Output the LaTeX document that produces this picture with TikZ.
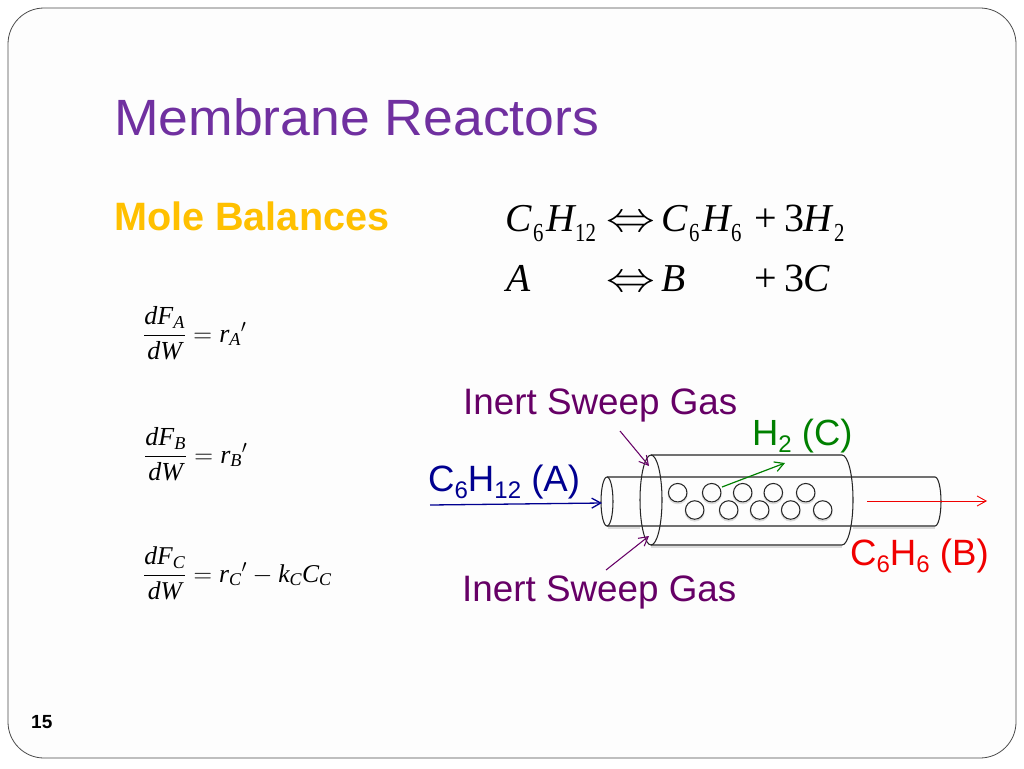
\documentclass[tikz,border=0pt]{standalone}
\usepackage{fix-cm}
\usepackage{amsmath}
\usepackage{fontspec}
\setmainfont{Liberation Sans}
\newfontfamily\timesf{Liberation Serif}
\usetikzlibrary{arrows.meta}
\definecolor{titlec}{HTML}{7030A0}
\definecolor{molec}{HTML}{FFC000}
\definecolor{sweep}{HTML}{660066}
\definecolor{bluec}{HTML}{000090}
\definecolor{greenc}{HTML}{008000}
\definecolor{redc}{HTML}{F00000}
\definecolor{slidebg}{HTML}{FDFDFD}
\newcommand{\fs}[1]{\fontsize{#1}{#1}\selectfont}
\newcommand{\tm}[1]{{\timesf\itshape\fs{39.5}#1}}
\newcommand{\tn}[1]{{\timesf\fs{40}#1}}
\newcommand{\tsb}[1]{\scalebox{0.8}[1]{\timesf\fs{26}#1}}
\newcommand{\mi}[1]{\text{\timesf\itshape #1}}
\newcommand{\dbl}{\scalebox{1.22}[1.05]{\fs{40}$\Leftrightarrow$}}
\newcommand{\lsub}[1]{\raisebox{-0.2em}{\fs{24}#1}}
\tikzset{
  lab/.style={inner sep=0pt,anchor=base west},
  tube/.style={draw=black!85,line width=1.05pt},
  tubeshade/.style={draw=black!14,line width=1.6pt},
  pellet/.style={draw=black!85,line width=1.05pt,fill=slidebg,circle,minimum size=18.5pt,inner sep=0pt},
  pshade/.style={draw=black!14,line width=1.6pt,circle,minimum size=18.5pt,inner sep=0pt},
  flow/.style={-{Straight Barb[length=9pt,width=10pt]},line width=1.05pt}
}
\begin{document}
\begin{tikzpicture}[x=1pt,y=-1pt]
\useasboundingbox (0,0) rectangle (1024,768);
\fill[white] (0,0) rectangle (1024,768);
\draw[fill=slidebg,draw=black!70,line width=0.8pt,rounded corners=36pt] (8,8) rectangle (1016,758);
\node[lab,text=titlec] (title) at (114,135) {\scalebox{1.05}[1]{\fs{51}Membrane Reactors}};
\node[lab,text=molec] (mole) at (114,230) {\fs{39.6}\bfseries Mole Balances};
% chemical equations
\node[lab] (c1a) at (505,231) {\tm{C}};
\node[lab] (c1b) at (533,241) {\tsb{6}};
\node[lab] (c1c) at (546,231) {\tm{H}};
\node[lab] (c1d) at (575,241) {\tsb{12}};
\node[lab] (arr1) at (606,231) {\dbl};
\node[lab] (c2a) at (661,231) {\tm{C}};
\node[lab] (c2b) at (689,241) {\tsb{6}};
\node[lab] (c2c) at (702,231) {\tm{H}};
\node[lab] (c2d) at (731,241) {\tsb{6}};
\node[lab] (c3a) at (754,231) {\tn{+}};
\node[lab] (c3b) at (784,231) {\tn{3}};
\node[lab] (c3c) at (803,231) {\tm{H}};
\node[lab] (c3d) at (834,241) {\tsb{2}};
\node[lab] (a) at (506,291) {\tm{A}};
\node[lab] (arr2) at (606,291) {\dbl};
\node[lab] (b) at (661,291) {\tm{B}};
\node[lab] (pl) at (754,291) {\tn{+}};
\node[lab] (three) at (784,291) {\tn{3}};
\node[lab] (c) at (803,291) {\tm{C}};
% balances
\node[lab] (e1) at (143,342) {\fs{26}$\dfrac{\mi{dF}_{\mi{A}}}{\mi{dW}}=\mi{r}_{\mi{A}}{}'$};
\node[lab] (e2) at (144,463) {\fs{26}$\dfrac{\mi{dF}_{\mi{B}}}{\mi{dW}}=\mi{r}_{\mi{B}}{}'$};
\node[lab] (e3) at (143,582) {\fs{25.6}$\dfrac{\mi{dF}_{\mi{C}}}{\mi{dW}}=\mi{r}_{\mi{C}}{}'-\mi{k}_{\mi{C}}\mi{C}_{\mi{C}}$};
% shades
\draw[tubeshade] (651,547) -- (842,547);
\draw[tubeshade] (608,528) -- (640,528) (853,528) -- (935,528);
% inner tube
\draw[tube] (607,477) -- (935,477) arc[start angle=-90,end angle=90,x radius=6,y radius=24.5] -- (607,526);
\draw[tube,fill=slidebg] (607,501.5) ellipse[x radius=6,y radius=24.5];
% outer tube
\draw[tube] (651,455) -- (842,455) arc[start angle=-90,end angle=90,x radius=11,y radius=45] -- (651,545);
\draw[tube] (651,500) ellipse[x radius=11,y radius=45];
% pellets
\foreach \n/\x/\y in {p1/677.7/492.7,p2/711.7/492.7,p3/742.7/492.7,p4/773.3/492.7,p5/805.7/492.7,
  q1/694.7/510,q2/728.7/510,q3/759.7/510,q4/790.7/510,q5/822.7/510}{
  \node[pshade] (\n s) at (\x,\y+1.5) {};
  \node[pellet] (\n) at (\x,\y) {};}
% labels
\node[lab,text=sweep] (s1) at (463,414) {\fs{36.8}Inert Sweep Gas};
\node[lab,text=sweep] (s2) at (462,601) {\fs{36.8}Inert Sweep Gas};
\node[lab,text=greenc] (h2) at (752,445) {\fs{36.4}H\lsub{2} (C)};
\node[lab,text=bluec] (ch) at (428,491) {\fs{36.6}C\lsub{6}H\lsub{12} (A)};
\node[lab,text=redc] (bz) at (850,565) {\fs{36.6}C\lsub{6}H\lsub{6} (B)};
% connectors
\coordinate (s1a) at (620,431); \coordinate (s1b) at (649,466);
\coordinate (s2a) at (606,570); \coordinate (s2b) at (649,536);
\coordinate (ba) at (430,505); \coordinate (bb) at (602,503);
\coordinate (ra) at (867,501); \coordinate (rb) at (987,501);
\coordinate (ga) at (722,487); \coordinate (gb) at (785,463);
\draw[flow,sweep] (s1a) -- (s1b);
\draw[flow,sweep] (s2a) -- (s2b);
\draw[flow,bluec,line width=1.3pt] (ba) -- (bb);
\draw[flow,redc,line width=0.9pt] (ra) -- (rb);
\draw[flow,greenc,line width=1.2pt] (ga) -- (gb);
\node[lab] (num) at (31,728) {\fs{19}\bfseries 15};
\end{tikzpicture}
\end{document}
